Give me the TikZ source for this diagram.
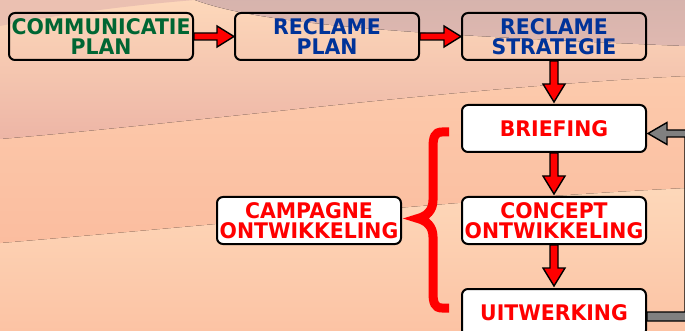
\documentclass[tikz,border=0pt]{standalone}
\usepackage{fontspec}
\usepackage{xcolor}
\usetikzlibrary{calc, positioning}

\newfontfamily\boxfont{DejaVu Sans}[FakeStretch=0.95]

\definecolor{planGreen}{HTML}{006633}
\definecolor{planBlue}{HTML}{003399}
\definecolor{sandLight}{HTML}{FDD8BA}
\definecolor{sandPink}{HTML}{EDB5A6}
\definecolor{sandDeep}{HTML}{FBBD9F}
\definecolor{sandLow}{HTML}{FCC3A4}
\definecolor{duneTop}{HTML}{DDB9B2}
\definecolor{duneCorner}{HTML}{EBC0B1}

% red block arrows between the boxes
\newcommand{\hblock}[2]{%
  \draw[blockarrow] ($(#1.east)+(0,-3.5)$) -- ($(#2.west)+(-17,-3.5)$)
    -- ($(#2.west)+(-17,-10.5)$) -- (#2.west) -- ($(#2.west)+(-17,10.5)$)
    -- ($(#2.west)+(-17,3.5)$) -- ($(#1.east)+(0,3.5)$) -- cycle;}
\newcommand{\vblock}[2]{%
  \draw[blockarrow] ($(#1.south)+(-4,0)$) -- ($(#2.north)+(-4,-20)$)
    -- ($(#2.north)+(-11,-20)$) -- ($(#2.north)+(0,-2)$) -- ($(#2.north)+(11,-20)$)
    -- ($(#2.north)+(4,-20)$) -- ($(#1.south)+(4,0)$) -- cycle;}

\begin{document}
\begin{tikzpicture}[
        x=1pt, y=-1pt,
        font=\boxfont\bfseries\fontsize{21.5}{20}\selectfont,
        planbox/.style={draw=black, line width=2pt, rounded corners=6pt,
            minimum width=184pt, minimum height=47pt, inner sep=1pt, align=center},
        flowbox/.style={planbox, fill=white, text=red},
        blockarrow/.style={draw=black, line width=1.4pt, fill=red, line join=miter},
        feedarrow/.style={draw=black, line width=1.4pt, fill=gray, line join=miter}
    ]
        \useasboundingbox (0,0) rectangle (685,331);

        % Background dunes
        \begin{scope}
            \clip (0,0) rectangle (685,331);
            \fill[top color=sandLight, bottom color=sandLow] (0,185) rectangle (685,331);
            \fill[top color=sandLight!70!sandDeep, bottom color=sandDeep]
                (0,0) -- (685,0) -- (685,188) .. controls (450,200) and (250,222) .. (0,243) -- cycle;
            \fill[top color=sandLight, bottom color=sandPink]
                (0,0) -- (685,0) -- (685,76) .. controls (450,88) and (200,122) .. (0,139) -- cycle;
            \fill[duneCorner] (0,0) -- (195,0) .. controls (120,6) and (50,16) .. (0,26) -- cycle;
            \fill[top color=duneTop!97!black, bottom color=duneTop!85!sandPink]
                (195,0) .. controls (260,24) and (400,34) .. (685,46) -- (685,0) -- cycle;
        \end{scope}

        % Planning row
        \node[planbox, text=planGreen] (comm) at (101,36.5) {COMMUNICATIE\\PLAN};
        \node[planbox, text=planBlue] (rplan) at (327,36.5) {RECLAME\\PLAN};
        \node[planbox, text=planBlue] (rstrat) at (554,36.5) {RECLAME\\STRATEGIE};

        % Campaign steps
        \node[flowbox] (brief) at (554,128.5) {BRIEFING};
        \node[flowbox] (concept) at (554,220.5) {CONCEPT\\ONTWIKKELING};
        \node[flowbox] (uitw) at (554,312.5) {UITWERKING};
        \node[flowbox] (campagne) at (309,220.5) {CAMPAGNE\\ONTWIKKELING};

        % Arrows
        \hblock{comm}{rplan}
        \hblock{rplan}{rstrat}
        \vblock{rstrat}{brief}
        \vblock{brief}{concept}
        \vblock{concept}{uitw}

        % Feedback loop (runs off the right edge)
        \coordinate (fb) at ($(brief.east)+(1,5)$);
        \coordinate (fu) at ($(uitw.east)+(0,4)$);
        \draw[feedarrow] (fb) -- ($(fb)+(19,-11)$) -- ($(fb)+(19,-3.5)$) -- ($(fb)+(50,-3.5)$)
            -- ($(fu)+(49,4.5)$) -- ($(fu)+(0,4.5)$) -- ($(fu)+(0,-4.5)$) -- ($(fu)+(38,-4.5)$)
            -- ($(fb)+(37,3.5)$) -- ($(fb)+(19,3.5)$) -- ($(fb)+(19,11)$) -- cycle;

        % Brace
        \draw[red, line width=9pt, line join=miter]
            (449,132) -- (442,132) .. controls (435,132) and (433,137) .. (433,147)
            -- (433,200) .. controls (433,211) and (426,216.5) .. (418,218.5)
            .. controls (426,220.5) and (433,226) .. (433,237)
            -- (433,293) .. controls (433,303) and (435,308) .. (442,308) -- (449,308);

    \end{tikzpicture}
\end{document}
